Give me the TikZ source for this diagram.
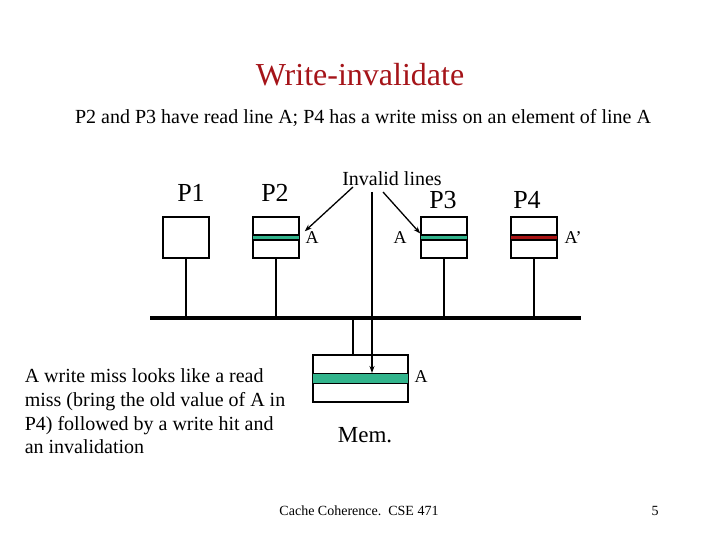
\documentclass[tikz,border=0pt]{standalone}
\usepackage{fontspec}
\setmainfont{Liberation Serif}
\usepackage{xcolor}
\usepackage{tikz}
\usetikzlibrary{positioning,arrows.meta,calc}
\definecolor{lineok}{RGB}{50,180,140}
\definecolor{linedirty}{RGB}{170,20,20}
\definecolor{titlered}{RGB}{165,20,25}

\begin{document}
\begin{tikzpicture}[x=1pt,y=-1pt,line width=1.5pt,
  cachebox/.style={draw,minimum width=46pt,minimum height=41pt,inner sep=0pt},
  membox/.style={draw,minimum width=95pt,minimum height=47pt,inner sep=0pt},
  plabel/.style={font=\fontsize{26}{30}\selectfont,inner sep=0pt},
  alabel/.style={font=\fontsize{18}{22}\selectfont,inner sep=0pt},
  band/.style={draw,line width=1.2pt},
  pointer/.style={-{Stealth[length=7pt,width=5pt]},line width=1.3pt}]
  \useasboundingbox (0,0) rectangle (720,540);
  \node[font=\fontsize{32}{36}\selectfont,text=titlered] (title) at (360,75) {Write-invalidate};
  \node[font=\fontsize{20}{24}\selectfont] (sub) at (363,118) {P2 and P3 have read line A; P4 has a write miss on an element of line A};
  \coordinate (busL) at (150,318);
  \coordinate (busR) at (581,318);
  \draw[line width=4pt] (busL) -- (busR);
  \foreach \n/\x/\lx/\ly in {1/186/191/193,2/276/275/193,3/444/443/200,4/534/527/200}{
    \node[cachebox] (c\n) at (\x,237.5) {};
    \node[plabel] (p\n) at (\lx,\ly) {P\n};
    \draw (c\n.south) -- (c\n.south |- busL);
  }
  \foreach \n/\col in {2/lineok,3/lineok,4/linedirty}{
    \draw[band,fill=\col] ($(c\n.west)+(0,-2.5)$) rectangle ($(c\n.east)+(0,2.5)$);
  }
  \node[alabel] (a2) at (312,238) {A};
  \node[alabel] (a3) at (400,238) {A};
  \node[alabel] (a4) at (573,238) {A'};
  \node[font=\fontsize{20}{24}\selectfont,inner sep=0pt] (inv) at (392,179) {Invalid lines};
  \coordinate (arrL) at (353,187);
  \coordinate (arrR) at (383,192);
  \coordinate (arrM) at (372,192);
  \draw[pointer] (arrL) -- (a2.north west);
  \draw[pointer] (arrR) -- ($(c3.west)+(0,-4)$);
  \node[membox] (mem) at (360.5,378.5) {};
  \draw[band,fill=lineok] ($(mem.west)+(0,-5)$) rectangle ($(mem.east)+(0,5)$);
  \draw (mem.north -| 353,0) -- (353,318);
  \draw[pointer] (arrM) -- (arrM |- 0,373);
  \node[alabel] (amem) at (421,377) {A};
  \node[font=\fontsize{23}{27}\selectfont] (memlbl) at (365,435) {Mem.};
  \node[font=\fontsize{20}{23.7}\selectfont,align=left,anchor=north west,inner sep=0pt] (note) at (24,368)
    {A write miss looks like a read\\miss (bring the old value of A in\\P4) followed by a write hit and\\an invalidation};
  \node[font=\fontsize{14}{16}\selectfont] (foot) at (359,511) {Cache Coherence.\ \ CSE 471};
  \node[font=\fontsize{14}{16}\selectfont] (page) at (655,511) {5};
\end{tikzpicture}
\end{document}
